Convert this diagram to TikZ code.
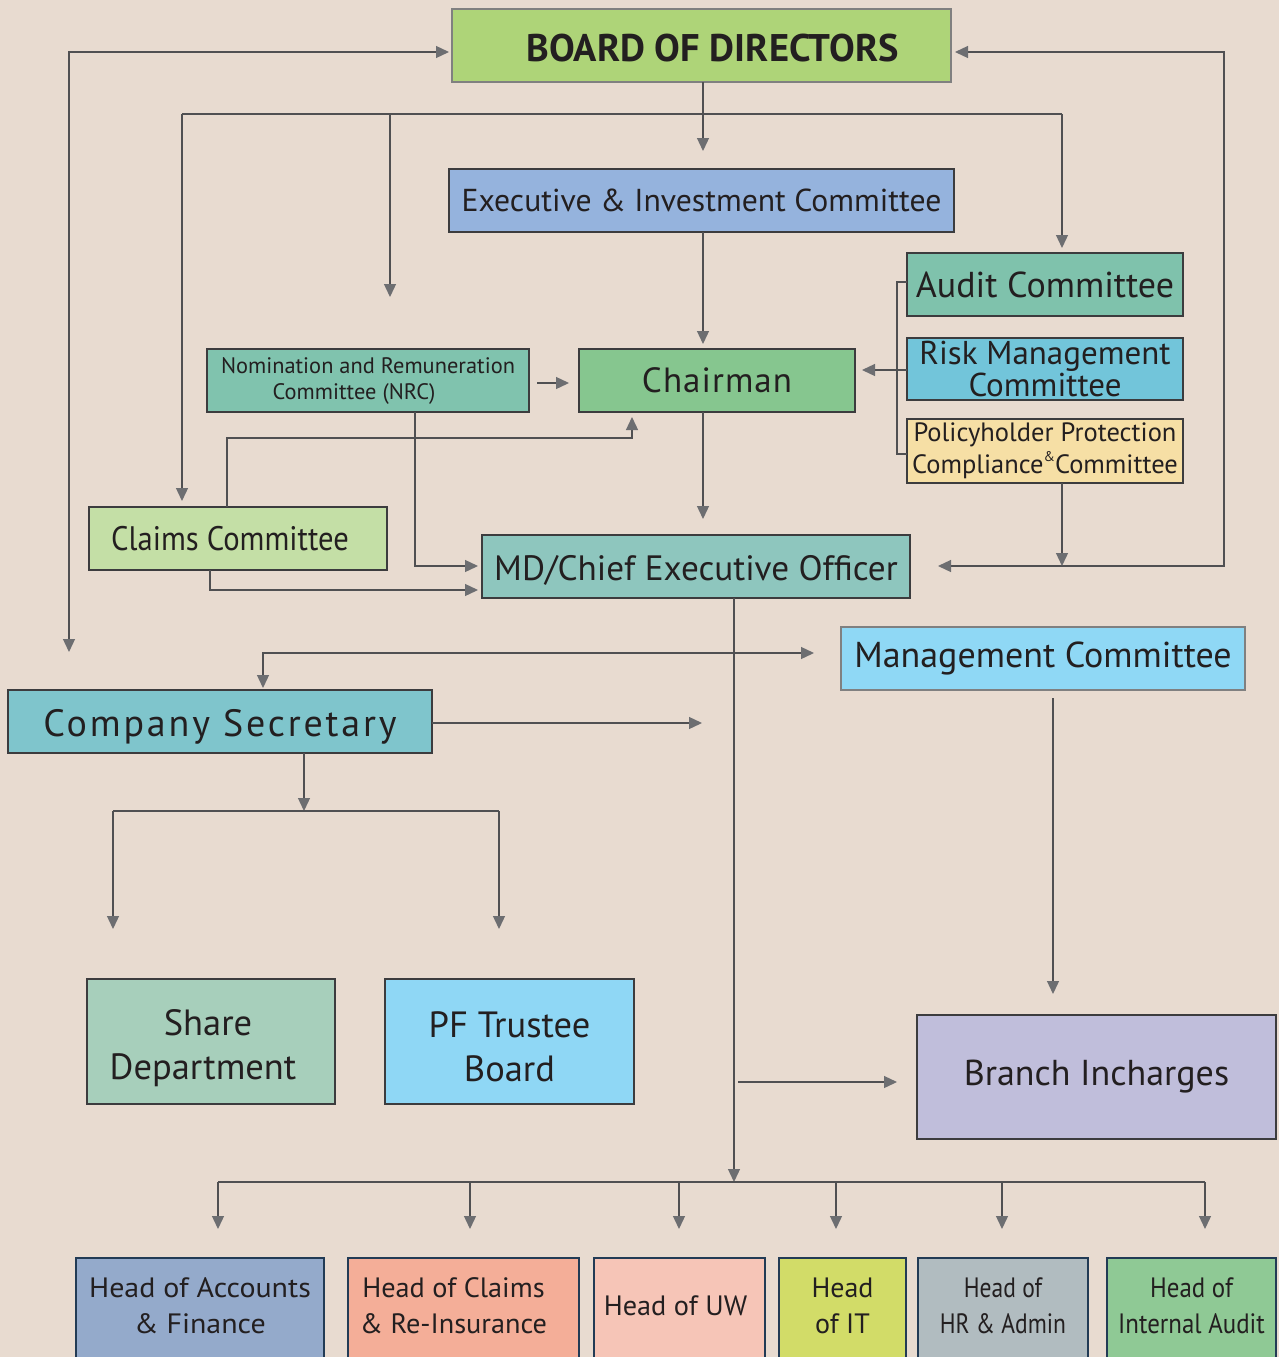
\documentclass[tikz,border=0pt]{standalone}
\usepackage{fontspec}
\usepackage{graphicx}
\setmainfont{PT Sans}
\newfontfamily\semi[FakeStretch=0.9]{PT Sans}
\newfontfamily\spaced[LetterSpace=7.5]{PT Sans}
\newfontfamily\lspaced[LetterSpace=3]{PT Sans}
\newcommand{\hstack}[2]{\scalebox{#1}[1]{\begin{tabular}{@{}c@{}}#2\end{tabular}}}
\usetikzlibrary{arrows.meta,calc}
\definecolor{bg}{HTML}{E8DBD0}
\definecolor{linec}{HTML}{505052}
\definecolor{tipc}{HTML}{6D6E71}
\definecolor{bordc}{HTML}{3C3C3E}
\definecolor{txtc}{HTML}{231F20}
\definecolor{navy}{HTML}{223B55}
\definecolor{cBoard}{HTML}{AED478}
\definecolor{cExec}{HTML}{95B3DD}
\definecolor{cAudit}{HTML}{7FC2AC}
\definecolor{cRisk}{HTML}{72C5DA}
\definecolor{cPolicy}{HTML}{F6DFA5}
\definecolor{cChair}{HTML}{86C68F}
\definecolor{cNRC}{HTML}{80C3AE}
\definecolor{cClaims}{HTML}{C4DFA6}
\definecolor{cMD}{HTML}{8EC6BE}
\definecolor{cMgmt}{HTML}{8FD8F5}
\definecolor{cCS}{HTML}{7FC5CC}
\definecolor{cShare}{HTML}{A7CFBB}
\definecolor{cPF}{HTML}{8FD7F5}
\definecolor{cBranch}{HTML}{C0BEDB}
\definecolor{cAcc}{HTML}{94AACB}
\definecolor{cClRe}{HTML}{F4AE98}
\definecolor{cUW}{HTML}{F6C5B7}
\definecolor{cIT}{HTML}{D2DC68}
\definecolor{cHR}{HTML}{B1BCC0}
\definecolor{cIA}{HTML}{8FC995}
\tikzset{
  box/.style={draw=bordc, line width=1.4pt, inner sep=0pt, outer sep=0pt, align=center, text=txtc},
  headbox/.style={box, draw=navy, line width=1.6pt, minimum height=100pt, font=\fontsize{28}{36}\selectfont},
  conn/.style={draw=linec, line width=1.3pt},
  arr/.style={conn, -{Triangle[length=13pt,width=12pt,color=tipc]}},
  arrs/.style={conn, {Triangle[length=13pt,width=12pt,color=tipc]}-{Triangle[length=13pt,width=12pt,color=tipc]}}
}
\begin{document}
\begin{tikzpicture}[x=1pt,y=-1pt]
\fill[bg] (0,0) rectangle (1279,1357);
\useasboundingbox (0,0) rectangle (1279,1357);

% boxes
\node[box, draw=gray, fill=cBoard, minimum width=499pt, minimum height=73pt, font=\bfseries\fontsize{38.5}{40}\selectfont] (board) at (701.5,45.5) {\hspace*{22pt}\rule{0pt}{33pt}BOARD OF DIRECTORS};
\node[box, fill=cExec, minimum width=505pt, minimum height=63pt, font=\fontsize{31.7}{36}\selectfont] (exec) at (701.5,200.5) {Executive \& Investment Committee};
\node[box, fill=cAudit, minimum width=276pt, minimum height=63pt, font=\fontsize{36}{38}\selectfont] (audit) at (1045,284.5) {Audit Committee};
\node[box, fill=cRisk, minimum width=276pt, minimum height=62pt, font=\fontsize{33}{29}\selectfont] (risk) at (1045,369) {Risk Management\\Committee};
\node[box, fill=cPolicy, minimum width=276pt, minimum height=64pt, font=\fontsize{26.5}{32}\selectfont] (policy) at (1045,451) {Policyholder Protection\\Compliance\raisebox{12pt}{\fontsize{14}{14}\selectfont\&}Committee};
\node[box, fill=cChair, minimum width=276pt, minimum height=63pt, font=\lspaced\fontsize{35}{38}\selectfont] (chair) at (717,380.5) {Chairman};
\node[box, fill=cNRC, minimum width=322pt, minimum height=63pt, font=\fontsize{22.4}{26}\selectfont] (nrc) at (368,380.5) {Nomination and Remuneration\\Committee (NRC)\hspace*{28pt}};
\node[box, fill=cClaims, minimum width=298pt, minimum height=63pt, font=\semi\fontsize{34}{36}\selectfont] (claims) at (238,538.5) {Claims Committee\hspace*{16pt}};
\node[box, fill=cMD, minimum width=428pt, minimum height=63pt, font=\fontsize{35.2}{38}\selectfont] (md) at (696,566.5) {\rule{0pt}{32pt}MD/Chief Executive Officer};
\node[box, draw=gray, fill=cMgmt, minimum width=404pt, minimum height=63pt, font=\fontsize{36}{38}\selectfont] (mgmt) at (1043,658.5) {Management Committee};
\node[box, fill=cCS, minimum width=424pt, minimum height=63pt, font=\spaced\fontsize{38}{40}\selectfont] (cs) at (220,721.5) {\rule{0pt}{38pt}Company Secretary};
\node[box, fill=cShare, minimum width=248pt, minimum height=125pt, font=\fontsize{36.5}{44}\selectfont] (share) at (211,1041.5) {\rule{0pt}{40pt}Share\hspace*{6pt}\\Department\hspace*{16pt}};
\node[box, fill=cPF, minimum width=249pt, minimum height=125pt, font=\fontsize{36.5}{44}\selectfont] (pf) at (509.5,1041.5) {\rule{0pt}{36pt}PF Trustee\\Board};
\node[box, fill=cBranch, minimum width=359pt, minimum height=124pt, font=\fontsize{36}{38}\selectfont] (branch) at (1096.5,1077) {Branch Incharges};

\node[headbox, fill=cAcc, minimum width=248pt] (acc) at (200,1308) {\rule{0pt}{34pt}\hstack{1.07}{Head of Accounts\\\& Finance}};
\node[headbox, fill=cClRe, minimum width=231pt] (clre) at (463.5,1308) {\rule{0pt}{34pt}\hstack{1.01}{Head of Claims\\\& Re-Insurance}\hspace*{20pt}};
\node[headbox, fill=cUW, minimum width=171pt] (uw) at (679.5,1308) {\hstack{1.01}{Head of UW}\hspace*{8pt}};
\node[headbox, fill=cIT, minimum width=127pt] (it) at (842.5,1308) {\rule{0pt}{34pt}\hstack{1.0}{Head\\of IT}};
\node[headbox, fill=cHR, minimum width=170pt] (hr) at (1003,1308) {\rule{0pt}{34pt}\hstack{0.84}{Head of\\HR \& Admin}};
\node[headbox, fill=cIA, minimum width=169pt] (ia) at (1191.5,1308) {\rule{0pt}{34pt}\hstack{0.89}{Head of\\Internal Audit}};

% junction coordinates
\coordinate (lbot) at (69,652);
\coordinate (rbot) at (938,566);
\coordinate (jb) at (703,114);
\coordinate (jl) at (182,114);
\coordinate (jm) at (390,114);
\coordinate (jr) at (1062,114);
\coordinate (jmfree) at (390,297);
\coordinate (cstop) at (263,653);
\coordinate (mgfree) at (814,653);
\coordinate (csfree) at (702,723);
\coordinate (csj) at (304,811);
\coordinate (mdbus) at (734,1182);
\coordinate (brfrom) at (738,1082);

% left loop
\draw[arrs, shorten >=3pt] (lbot) -- (69,52) -- ([yshift=-6.5pt]board.west);
% right loop
\draw[arrs, shorten <=4pt] ([yshift=-6.5pt]board.east) -- (1224,52) |- (rbot);
% board tree
\draw[conn] (board.south -| jb) -- (jb);
\draw[arr, shorten >=18pt] (jb) -- (exec.north -| jb);
\draw[conn] (jl) -- (jr);
\draw[arr, shorten >=6pt] (jl) -- (claims.north -| jl);
\draw[arr] (jm) -- (jmfree);
\draw[arr, shorten >=5pt] (jr) -- (audit.north -| jr);
% centre column
\draw[arr, shorten >=5pt] (exec.south -| jb) -- (chair.north -| jb);
\draw[arr, shorten >=16pt] (chair.south -| jb) -- (md.north -| jb);
% NRC to chairman
\draw[arr, shorten <=8pt, shorten >=10pt] (nrc.east |- 0,383) -- (chair.west |- 0,383);
% claims to chairman
\draw[arr, shorten >=5pt] (claims.north -| 227,0) |- (632,438) -- (chair.south -| 632,0);
% NRC to MD
\draw[arr, shorten >=4pt] (nrc.south -| 415,0) |- (md.west |- 0,566);
% claims to MD
\draw[arr, shorten >=4pt] (claims.south -| 210,0) |- (md.west |- 0,590);
% committees bracket
\draw[conn] (audit.west |- 0,282) -- (897,282) -- (897,454) -- (policy.west |- 0,454);
\draw[arr, shorten >=7pt] (risk.west |- 0,370) -- (chair.east |- 0,370);
% policyholder down
\draw[arr] (policy.south -| jr) -- (1062,566);
% MD down to heads
\draw[arr] (md.south -| mdbus) -- (mdbus);
\draw[conn] (218,1182) -- (1205,1182);
\foreach \xx in {218,470,679,836,1002,1205}{
  \draw[arr] (\xx,1182) -- (\xx,1229);
}
% company secretary / management committee
\draw[arrs, shorten <=2pt] (cs.north -| cstop) -- (cstop) -- (mgfree);
\draw[arr] (cs.east |- csfree) -- (csfree);
\draw[arr] (cs.south -| csj) -- (csj);
\draw[conn] (113,811) -- (499,811);
\draw[arr, shorten >=50pt] (113,811) -- (share.north -| 113,0);
\draw[arr, shorten >=50pt] (499,811) -- (pf.north -| 499,0);
% management committee to branch
\draw[arr, shorten >=21pt] (1053,698) -- (branch.north -| 1053,0);
\draw[arr, shorten >=20pt] (brfrom) -- (branch.west |- brfrom);
\end{tikzpicture}
\end{document}
